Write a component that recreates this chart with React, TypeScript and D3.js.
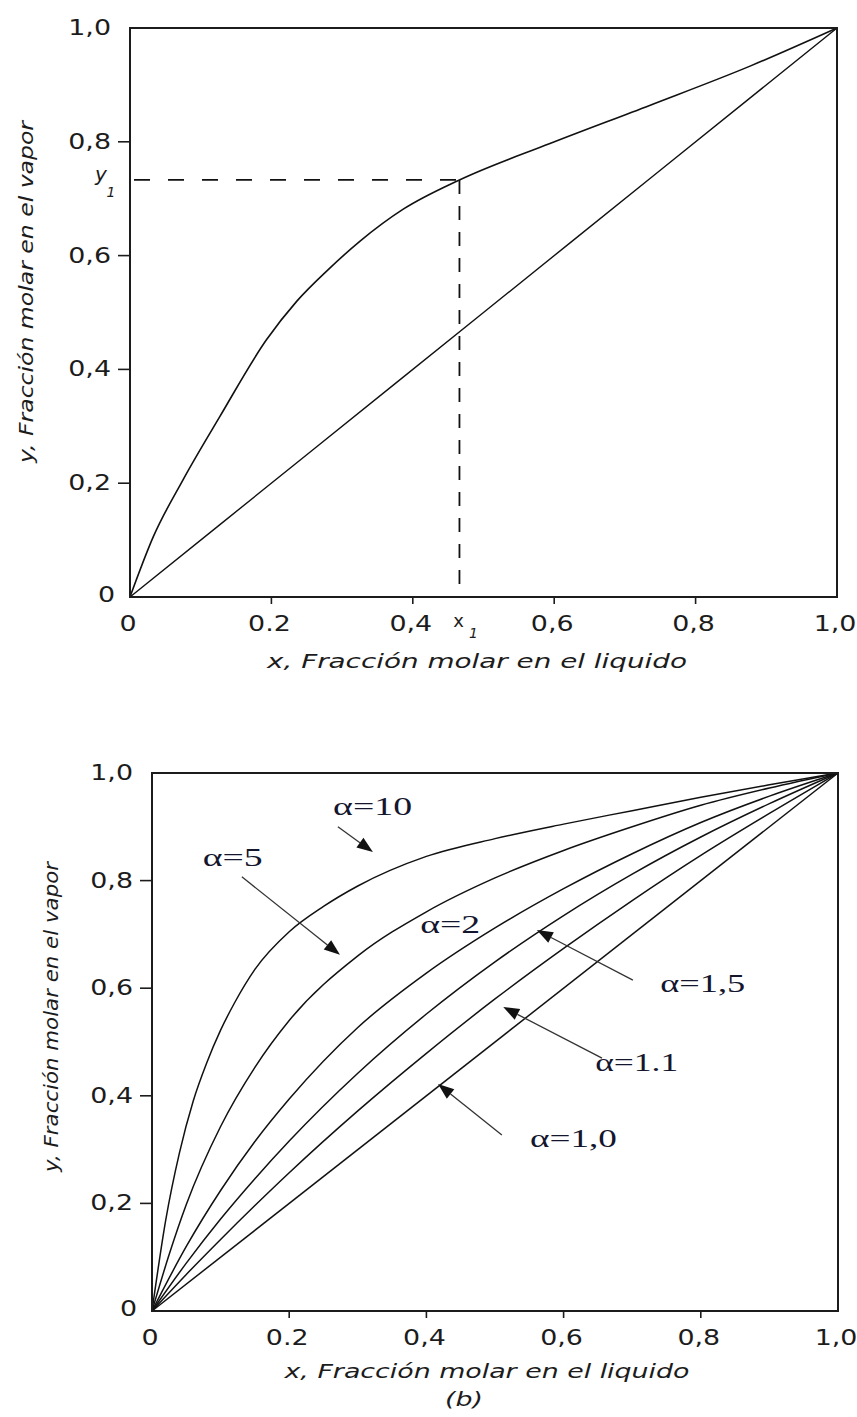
import React from 'react';
import * as d3 from 'd3';

// ---------- Panel (a): equilibrium curve y–x with the 45° diagonal ----------
const eqX = [0, 0.033, 0.075, 0.127, 0.193, 0.236, 0.28, 0.325, 0.387, 0.466, 0.594, 0.735, 0.877, 1];
const eqY = [0, 0.106, 0.206, 0.317, 0.452, 0.52, 0.575, 0.625, 0.682, 0.733, 0.797, 0.864, 0.933, 1];
const diagX = [0, 0.25, 0.5, 0.75, 1];
const diagY = [0, 0.25, 0.5, 0.75, 1];
const x1Value = 0.466;
const y1Value = 0.733;

const tickValues = [0, 0.2, 0.4, 0.6, 0.8, 1.0];
const yTickLabels = ['0', '0,2', '0,4', '0,6', '0,8', '1,0'];
const xTickLabels = ['0', '0.2', '0,4', '0,6', '0,8', '1,0'];

// ---------- Panel (b): y–x curves for several relative volatilities ----------
const a10X = [0, 0.02, 0.04, 0.06, 0.08, 0.1, 0.12, 0.15, 0.2, 0.25, 0.3, 0.4, 0.5, 0.6, 0.7, 0.8, 0.9, 1];
const a10Y = [0, 0.169, 0.294, 0.39, 0.462, 0.522, 0.572, 0.635, 0.705, 0.752, 0.79, 0.845, 0.878, 0.905, 0.93, 0.955, 0.978, 1];
const a5X = [0, 0.025, 0.05, 0.1, 0.15, 0.2, 0.3, 0.4, 0.5, 0.6, 0.7, 0.8, 0.9, 1];
const a5Y = [0, 0.105, 0.198, 0.343, 0.453, 0.54, 0.66, 0.742, 0.805, 0.856, 0.9, 0.94, 0.972, 1];
const gridX = [0, 0.05, 0.1, 0.15, 0.2, 0.3, 0.4, 0.5, 0.6, 0.7, 0.8, 0.9, 1];
const a2Y = [0, 0.12, 0.224, 0.315, 0.394, 0.527, 0.628, 0.712, 0.785, 0.85, 0.908, 0.957, 1];
const a15Y = [0, 0.089, 0.171, 0.246, 0.316, 0.442, 0.552, 0.649, 0.735, 0.812, 0.881, 0.943, 1];
const a11Y = [0, 0.068, 0.133, 0.196, 0.257, 0.372, 0.479, 0.58, 0.674, 0.763, 0.847, 0.925, 1];
const a10eqX = [0, 1];
const a10eqY = [0, 1];

const alphaNames = ['α=10', 'α=5', 'α=2', 'α=1,5', 'α=1.1', 'α=1,0'];
// label anchor (data units), label width (px), arrow tail and tip (data units)
const alphaLabelX = [0.264, 0.074, 0.391, 0.741, 0.646, 0.551];
const alphaLabelY = [0.922, 0.827, 0.703, 0.593, 0.446, 0.305];
const alphaLabelW = [79, 60, 60, 85, 83, 87];
const arrowTail: (number[] | null)[] = [[0.271, 0.9], [0.131, 0.807], null, [0.701, 0.615], [0.656, 0.47], [0.51, 0.327]];
const arrowTip: (number[] | null)[] = [[0.322, 0.853], [0.274, 0.662], null, [0.561, 0.708], [0.512, 0.565], [0.417, 0.422]];

const W = 857;
const H = 1417;
const INK = '#1c1c1c';
const SANS = '"DejaVu Sans", Verdana, sans-serif';
const SERIF = '"Liberation Serif", "Times New Roman", serif';

const zip = (xs: number[], ys: number[]) => xs.map((x, i) => [x, ys[i]] as [number, number]);

function Stretched({ x, y, anchor = 'middle', size = 21, sx = 1.28, italic = false, children }: any) {
  return (
    <text
      transform={`translate(${x},${y}) scale(${sx},1)`}
      textAnchor={anchor}
      fontFamily={SANS}
      fontSize={size}
      fontStyle={italic ? 'italic' : 'normal'}
      fill={INK}
    >
      {children}
    </text>
  );
}

function Frame({ sx, sy, xLabels, yLabels }: any) {
  const [l, r] = sx.range();
  const [b, t] = sy.range();
  return (
    <g>
      <rect x={l} y={t} width={r - l} height={b - t} fill="none" stroke={INK} strokeWidth={2} />
      {tickValues.filter((v) => v > 0 && v < 1).map((v) => (
        <g key={'t' + v}>
          <line x1={l - 12} x2={l} y1={sy(v)} y2={sy(v)} stroke={INK} strokeWidth={1.6} />
          <line x1={sx(v)} x2={sx(v)} y1={b} y2={b + 7} stroke={INK} strokeWidth={1.6} />
        </g>
      ))}
      {tickValues.map((v, i) => (
        <Stretched key={'yl' + v} x={v === 0 ? l - 15 : l - 19} y={sy(v) + (v === 0 ? 5 : 7)} anchor="end">
          {yLabels[i]}
        </Stretched>
      ))}
      {tickValues.map((v, i) => (
        <Stretched key={'xl' + v} x={sx(v) - 2} y={b + 34}>
          {xLabels[i]}
        </Stretched>
      ))}
    </g>
  );
}

function AxisTitle({ x, y, len, rotate = false, children }: any) {
  return (
    <text
      transform={rotate ? `translate(${x},${y}) rotate(-90)` : `translate(${x},${y})`}
      textAnchor="middle"
      fontFamily={SANS}
      fontSize={19}
      fontStyle="italic"
      fill={INK}
      textLength={len}
      lengthAdjust="spacingAndGlyphs"
    >
      {children}
    </text>
  );
}

export default function App() {
  // Panel (a) scales
  const axA = d3.scaleLinear().domain([0, 1]).range([130, 837]);
  const ayA = d3.scaleLinear().domain([0, 1]).range([597, 28]);
  const lineA = d3
    .line<[number, number]>()
    .x((d) => axA(d[0]))
    .y((d) => ayA(d[1]))
    .curve(d3.curveMonotoneX);

  // Panel (b) scales
  const axB = d3.scaleLinear().domain([0, 1]).range([152, 838]);
  const ayB = d3.scaleLinear().domain([0, 1]).range([1311, 773]);
  const lineB = d3
    .line<[number, number]>()
    .x((d) => axB(d[0]))
    .y((d) => ayB(d[1]))
    .curve(d3.curveMonotoneX);

  const curvesB = [
    zip(a10X, a10Y),
    zip(a5X, a5Y),
    zip(gridX, a2Y),
    zip(gridX, a15Y),
    zip(gridX, a11Y),
    zip(a10eqX, a10eqY),
  ];

  const arrowHead = (tail: number[], tip: number[]) => {
    const x0 = axB(tail[0]);
    const y0 = ayB(tail[1]);
    const x1 = axB(tip[0]);
    const y1 = ayB(tip[1]);
    const ang = Math.atan2(y1 - y0, x1 - x0);
    const len = 16;
    const half = 6;
    const bx = x1 - len * Math.cos(ang);
    const by = y1 - len * Math.sin(ang);
    const px = -Math.sin(ang) * half;
    const py = Math.cos(ang) * half;
    return {
      line: [x0, y0, bx, by],
      poly: `${x1},${y1} ${bx + px},${by + py} ${bx - px},${by - py}`,
    };
  };

  return (
    <svg
      width={W}
      height={H}
      viewBox={`0 0 ${W} ${H}`}
      style={{ position: 'absolute', left: 0, top: 0, background: '#fff' }}
    >
      <rect x={0} y={0} width={W} height={H} fill="#fff" />

      {/* ---------- Panel (a) ---------- */}
      <path d={lineA(zip(diagX, diagY)) || ''} fill="none" stroke="#111" strokeWidth={1.4} />
      <path d={lineA(zip(eqX, eqY)) || ''} fill="none" stroke="#111" strokeWidth={1.6} />
      <line
        x1={axA(0)}
        x2={axA(x1Value)}
        y1={ayA(y1Value)}
        y2={ayA(y1Value)}
        stroke="#111"
        strokeWidth={1.8}
        strokeDasharray="16 18"
        strokeDashoffset={-4}
      />
      <line
        x1={axA(x1Value)}
        x2={axA(x1Value)}
        y1={ayA(y1Value)}
        y2={ayA(0)}
        stroke="#111"
        strokeWidth={1.8}
        strokeDasharray="14 12"
      />
      <Frame sx={axA} sy={ayA} xLabels={xTickLabels} yLabels={yTickLabels} />
      {/* y1 and x1 markers */}
      <text x={101} y={ayA(y1Value) + 1} textAnchor="middle" fontFamily={SANS} fontSize={20} fontStyle="italic" fill={INK}>
        y
      </text>
      <text x={111} y={ayA(y1Value) + 17} textAnchor="middle" fontFamily={SANS} fontSize={14} fontStyle="italic" fill={INK}>
        1
      </text>
      <text x={axA(x1Value) - 1} y={627} textAnchor="middle" fontFamily={SANS} fontSize={18} fill={INK}>
        x
      </text>
      <text x={axA(x1Value) + 14} y={638} textAnchor="middle" fontFamily={SANS} fontSize={14} fontStyle="italic" fill={INK}>
        1
      </text>
      <AxisTitle x={477} y={668} len={420}>
        x, Fracción molar en el liquido
      </AxisTitle>
      <AxisTitle x={33} y={292} len={342} rotate>
        y, Fracción molar en el vapor
      </AxisTitle>

      {/* ---------- Panel (b) ---------- */}
      {curvesB.map((pts, i) => (
        <path key={'c' + i} d={lineB(pts) || ''} fill="none" stroke="#111" strokeWidth={1.5} />
      ))}
      <Frame sx={axB} sy={ayB} xLabels={xTickLabels} yLabels={yTickLabels} />
      {alphaNames.map((name, i) => {
        const tail = arrowTail[i];
        const tip = arrowTip[i];
        const a = tail && tip ? arrowHead(tail, tip) : null;
        return (
          <g key={'a' + i}>
            {a && (
              <>
                <line x1={a.line[0]} y1={a.line[1]} x2={a.line[2]} y2={a.line[3]} stroke="#333" strokeWidth={1.3} />
                <polygon points={a.poly} fill="#111" />
              </>
            )}
            <text
              x={axB(alphaLabelX[i])}
              y={ayB(alphaLabelY[i])}
              fontFamily={SERIF}
              fontSize={25}
              fill="#14162e"
              textLength={alphaLabelW[i]}
              lengthAdjust="spacingAndGlyphs"
            >
              {name}
            </text>
          </g>
        );
      })}
      <AxisTitle x={487} y={1378} len={405}>
        x, Fracción molar en el liquido
      </AxisTitle>
      <AxisTitle x={58} y={1017} len={310} rotate>
        y, Fracción molar en el vapor
      </AxisTitle>
      <AxisTitle x={464} y={1406} len={38}>
        (b)
      </AxisTitle>
    </svg>
  );
}
